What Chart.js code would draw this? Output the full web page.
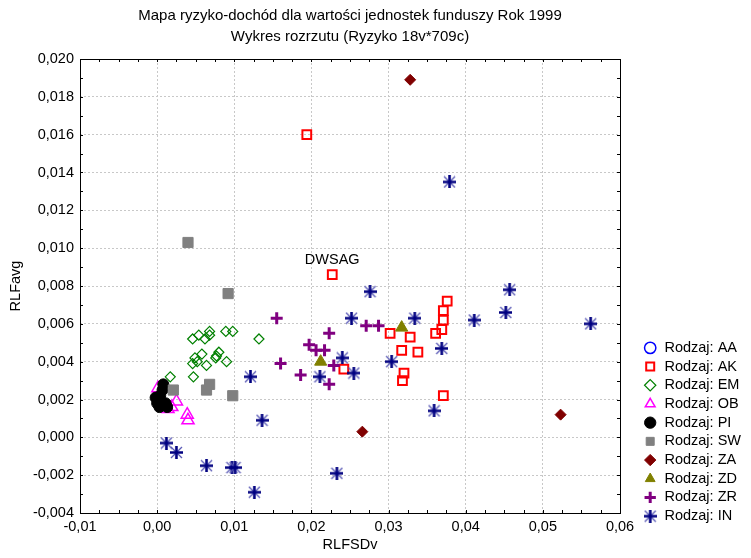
<!DOCTYPE html>
<html>
<head>
<meta charset="utf-8">
<script src="https://cdn.jsdelivr.net/npm/chart.js@4/dist/chart.umd.min.js"></script>
<style>
  html, body { margin: 0; padding: 0; background: #fff; }
  canvas { display: block; }
</style>
</head>
<body>
<canvas id="chart" width="751" height="558"></canvas>
<script>
// --- data (RLFSDv, RLFavg) ---
var titleLines = ['Mapa ryzyko-dochód dla wartości jednostek funduszy Rok 1999', 'Wykres rozrzutu (Ryzyko 18v*709c)'];
var seriesNames = ['Rodzaj: AA', 'Rodzaj: AK', 'Rodzaj: EM', 'Rodzaj: OB', 'Rodzaj: PI', 'Rodzaj: SW', 'Rodzaj: ZA', 'Rodzaj: ZD', 'Rodzaj: ZR', 'Rodzaj: IN'];

var aaX = [];
var aaY = [];

var akX = [0.0194, 0.0227, 0.0376, 0.0371, 0.0371, 0.0369, 0.0361, 0.0328, 0.0302, 0.0317, 0.0338, 0.0242, 0.0320, 0.0318, 0.0371];
var akY = [0.0160, 0.0086, 0.0072, 0.0067, 0.0062, 0.0057, 0.0055, 0.0053, 0.0055, 0.0046, 0.0045, 0.0036, 0.0034, 0.0030, 0.0022];
var akNames = ['', 'DWSAG', '', '', '', '', '', '', '', '', '', '', '', '', ''];

var emX = [0.0046, 0.0054, 0.0062, 0.0068, 0.0068, 0.0089, 0.0098, 0.0132, 0.0049, 0.0058, 0.0046, 0.0052, 0.0064, 0.0077, 0.0080, 0.0076, 0.0090, 0.0047, 0.0017];
var emY = [0.0052, 0.0054, 0.0052, 0.0056, 0.0054, 0.0056, 0.0056, 0.0052, 0.0042, 0.0044, 0.0039, 0.0040, 0.0038, 0.0043, 0.0045, 0.0042, 0.0040, 0.0032, 0.0032];

var obX = [0.0001, 0.0025, 0.0014, 0.0019, 0.0039, 0.0040];
var obY = [0.0026, 0.0019, 0.0015, 0.0016, 0.0012, 0.0009];

var piX = [0.0008, 0.0007, 0.0004, -0.0002, 0.0000, 0.0005, 0.0011, 0.0003, 0.0013];
var piY = [0.0028, 0.0025, 0.0022, 0.0021, 0.0018, 0.0018, 0.0018, 0.0016, 0.0016];

var swX = [0.0040, 0.0092, 0.0021, 0.0064, 0.0068, 0.0098];
var swY = [0.0103, 0.0076, 0.0025, 0.0025, 0.0028, 0.0022];

var zaX = [0.0328, 0.0523, 0.0266];
var zaY = [0.0189, 0.0012, 0.0003];

var zdX = [0.0317, 0.0212];
var zdY = [0.0058, 0.0040];

var zrX = [0.0155, 0.0271, 0.0287, 0.0223, 0.0197, 0.0206, 0.0217, 0.0160, 0.0186, 0.0229, 0.0223];
var zrY = [0.0063, 0.0059, 0.0059, 0.0055, 0.0049, 0.0046, 0.0046, 0.0039, 0.0033, 0.0038, 0.0028];

var inX = [0.0379, 0.0457, 0.0452, 0.0411, 0.0562, 0.0334, 0.0369, 0.0359, 0.0276, 0.0252, 0.0240, 0.0255, 0.0211, 0.0304, 0.0121, 0.0136, 0.0012, 0.0025, 0.0064, 0.0097, 0.0101, 0.0126, 0.0233];
var inY = [0.0135, 0.0078, 0.0066, 0.0062, 0.0060, 0.0063, 0.0047, 0.0014, 0.0077, 0.0063, 0.0042, 0.0034, 0.0032, 0.0040, 0.0032, 0.0009, -0.0003, -0.0008, -0.0015, -0.0016, -0.0016, -0.0029, -0.0019];

var xTicks = {min: -0.01, max: 0.06, step: 0.01, minor: 0.0025};
var yTicks = {min: -0.004, max: 0.020, step: 0.002, minor: 0.001};

function zip(xs, ys){
    var out = [];
    for(var i=0; i<xs.length; i++) out.push({x: xs[i], y: ys[i]});
    return out;
}

// asterisk marker: bold navy plus over a thin lighter x
function starMarker(){
    var c = document.createElement('canvas');
    c.width = 13; c.height = 13;
    var g = c.getContext('2d');
    g.strokeStyle = '#5656b4'; g.lineWidth = 1.3;
    g.beginPath();
    g.moveTo(1, 1); g.lineTo(12, 12);
    g.moveTo(12, 1); g.lineTo(1, 12);
    g.stroke();
    g.strokeStyle = '#000080'; g.lineWidth = 2.6;
    g.beginPath();
    g.moveTo(6.5, 0); g.lineTo(6.5, 13);
    g.moveTo(0, 6.5); g.lineTo(13, 6.5);
    g.stroke();
    return c;
}

// decimal comma, and no "-0,00" from float noise
function comma(v, d){
    v = Number(v);
    if(Math.abs(v) < 1e-12) v = 0;
    return v.toFixed(d).replace('.', ',');
}

var styles = [
    {style: 'circle',   border: '#0000ff', fill: 'rgba(0,0,0,0)', bw: 1.5, r: 5.5},
    {style: 'rect',     border: '#ff0000', fill: 'rgba(0,0,0,0)', bw: 2,   r: 6.2},
    {style: 'rectRot',  border: '#008000', fill: 'rgba(0,0,0,0)', bw: 1.2, r: 5},
    {style: 'triangle', border: '#ff00ff', fill: 'rgba(0,0,0,0)', bw: 1.5, r: 7},
    {style: 'circle',   border: '#000000', fill: '#000000',       bw: 1,   r: 5.5},
    {style: 'rect',     border: '#808080', fill: '#808080',       bw: 1,   r: 7.2},
    {style: 'rectRot',  border: '#800000', fill: '#800000',       bw: 1,   r: 5.5},
    {style: 'triangle', border: '#808000', fill: '#808000',       bw: 1,   r: 7},
    {style: 'cross',    border: '#800080', fill: '#800080',       bw: 3,   r: 6},
    {style: starMarker(), border: '#000080', fill: '#000080',     bw: 1,   r: 6.5}
];
var seriesData = [zip(aaX, aaY), zip(akX, akY), zip(emX, emY), zip(obX, obY), zip(piX, piY),
                  zip(swX, swY), zip(zaX, zaY), zip(zdX, zdY), zip(zrX, zrY), zip(inX, inY)];

var datasets = [];
for(var i=0; i<seriesNames.length; i++){
    var s = styles[i];
    datasets.push({
        label: seriesNames[i],
        data: seriesData[i],
        pointStyle: s.style,
        pointRadius: s.r,
        borderColor: s.border,
        backgroundColor: s.fill,
        borderWidth: s.bw,
        order: seriesNames.length - i   // later series drawn on top
    });
}

var FONT = 'Arial, "Liberation Sans", sans-serif';
var FS = 14.5;
Chart.defaults.font.family = FONT;
Chart.defaults.font.size = FS;
Chart.defaults.color = '#000';

// plot frame with inward minor ticks on all four sides
var framePlugin = {
    id: 'frame',
    afterDatasetsDraw: function(chart){
        var ctx = chart.ctx, a = chart.chartArea;
        var xs = chart.scales.x, ys = chart.scales.y;
        ctx.save();
        ctx.strokeStyle = '#000';
        ctx.lineWidth = 1;
        ctx.strokeRect(Math.round(a.left) + 0.5, Math.round(a.top) + 0.5,
                       Math.round(a.right - a.left), Math.round(a.bottom - a.top));
        ctx.beginPath();
        var n = Math.round((xTicks.max - xTicks.min) / xTicks.minor);
        for(var k=1; k<n; k++){
            var px = Math.round(xs.getPixelForValue(xTicks.min + k * xTicks.minor)) + 0.5;
            ctx.moveTo(px, a.bottom); ctx.lineTo(px, a.bottom - 3);
            ctx.moveTo(px, a.top); ctx.lineTo(px, a.top + 3);
        }
        n = Math.round((yTicks.max - yTicks.min) / yTicks.minor);
        for(var k=1; k<n; k++){
            var py = Math.round(ys.getPixelForValue(yTicks.min + k * yTicks.minor)) + 0.5;
            ctx.moveTo(a.left, py); ctx.lineTo(a.left + 3, py);
            ctx.moveTo(a.right, py); ctx.lineTo(a.right - 3, py);
        }
        ctx.stroke();

        // point labels (DWSAG)
        var meta = chart.getDatasetMeta(1);
        ctx.fillStyle = '#000';
        ctx.font = FS + 'px ' + FONT;
        ctx.textAlign = 'center';
        ctx.textBaseline = 'middle';
        for(var j=0; j<akNames.length; j++){
            if(!akNames[j]) continue;
            var p = meta.data[j];
            ctx.fillText(akNames[j], p.x, p.y - 15);
        }
        ctx.restore();
    }
};

var gridOpts = {color: '#c8c8c8', lineWidth: 1, drawTicks: false};

var chart = new Chart(document.getElementById('chart').getContext('2d'), {
    type: 'scatter',
    data: {datasets: datasets},
    options: {
        responsive: false,
        animation: false,
        devicePixelRatio: 1,
        events: [],
        layout: {padding: 0},
        scales: {
            x: {
                type: 'linear', position: 'bottom',
                min: xTicks.min, max: xTicks.max,
                ticks: {stepSize: xTicks.step, padding: 5, font: {size: FS}, color: '#000',
                        callback: function(v){ return comma(v, 2); }},
                grid: gridOpts,
                border: {display: false, dash: [2, 2]},
                title: {display: true, text: 'RLFSDv', font: {size: FS}, color: '#000', padding: {top: 0, bottom: 4}},
                afterFit: function(s){ s.height = 45; }
            },
            y: {
                type: 'linear', position: 'left',
                min: yTicks.min, max: yTicks.max,
                ticks: {stepSize: yTicks.step, padding: 6, font: {size: FS}, color: '#000',
                        callback: function(v){ return comma(v, 3); }},
                grid: gridOpts,
                border: {display: false, dash: [2, 2]},
                title: {display: true, text: 'RLFavg', font: {size: FS}, color: '#000', padding: {top: 7, bottom: 0}},
                afterFit: function(s){ s.width = 80; }
            },
            yR: {
                type: 'linear', position: 'right', display: true,
                min: 0, max: 1,
                ticks: {display: false},
                grid: {display: false, drawTicks: false},
                border: {display: false},
                afterFit: function(s){
                    var lg = s.chart.legend;
                    s.width = Math.max(0, s.chart.width - (lg ? lg.width : 0) - 620);
                }
            }
        },
        plugins: {
            title: {
                display: true, text: titleLines, color: '#000', fullSize: false,
                font: {size: 15, weight: 'normal', lineHeight: 1.4},
                padding: {top: 5, bottom: 12}
            },
            legend: {
                display: true, position: 'right', align: 'start', fullSize: true,
                title: {display: true, text: ' ', font: {size: FS}, padding: {top: 319, bottom: 0}},
                labels: {
                    usePointStyle: true, boxWidth: 14, boxHeight: 8, padding: 4.2,
                    font: {size: FS}, color: '#000',
                    sort: function(a, b){ return a.datasetIndex - b.datasetIndex; }
                }
            },
            tooltip: {enabled: false}
        }
    },
    plugins: [framePlugin]
});
</script>
</body>
</html>
